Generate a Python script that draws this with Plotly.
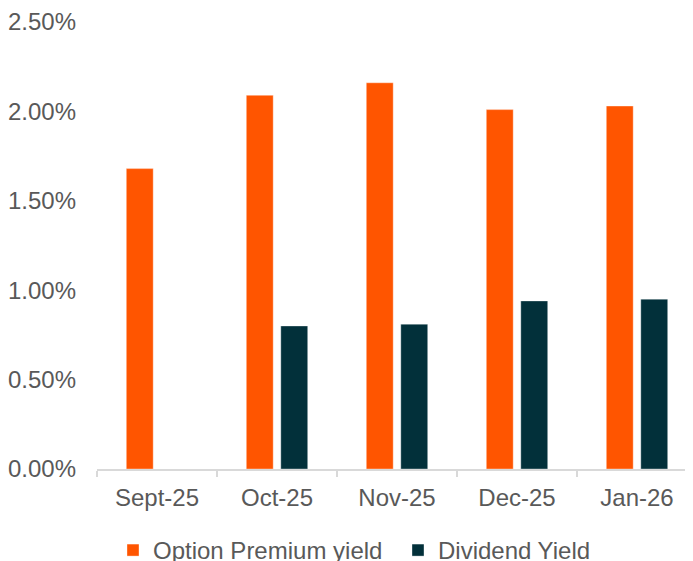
import plotly.graph_objects as go

# monthly yields, in percent
months = ["Sept-25", "Oct-25", "Nov-25", "Dec-25", "Jan-26"]
option_premium_yield = [1.68, 2.09, 2.16, 2.01, 2.03]
dividend_yield = [None, 0.80, 0.81, 0.94, 0.95]
y_ticks = [0, 0.5, 1.0, 1.5, 2.0, 2.5]
y_tick_labels = [f"{v:.2f}%" for v in y_ticks]

ORANGE = "#FF5500"
DARK = "#02303A"
GREY_TEXT = "#595959"
AXIS_GREY = "#D9D9D9"
FONT = "Liberation Sans, Arial, sans-serif"

fig = go.Figure()

fig.add_trace(go.Bar(
    x=months,
    y=option_premium_yield,
    name="Option Premium yield",
    marker=dict(color=ORANGE, line=dict(color="rgba(255,255,255,0.45)", width=0.8)),
))

fig.add_trace(go.Bar(
    x=months,
    y=dividend_yield,
    name="Dividend Yield",
    marker=dict(color=DARK, line=dict(color="rgba(255,255,255,0.45)", width=0.8)),
))

# the page body adds an 8px offset, so margins are shifted to compensate
fig.update_layout(
    width=693,
    height=561,
    template="simple_white",
    paper_bgcolor="white",
    plot_bgcolor="white",
    font=dict(family=FONT, size=24, color=GREY_TEXT),
    barmode="group",
    bargap=0.425,
    bargroupgap=0.22,
    margin=dict(l=89, r=4, t=14, b=100, autoexpand=False),
    showlegend=True,
    legend=dict(
        orientation="h",
        xref="container", yref="container",
        x=0.1515, y=0.033,
        xanchor="left", yanchor="middle",
        entrywidth=240,
        font=dict(size=24, color=GREY_TEXT),
        bgcolor="rgba(0,0,0,0)",
        itemclick=False,
    ),
)

fig.update_xaxes(
    range=[-0.5, 4.5],
    automargin=False,
    showline=True,
    linecolor=AXIS_GREY,
    linewidth=1.5,
    ticks="outside",
    tickson="boundaries",
    ticklen=6,
    tickcolor=AXIS_GREY,
    tickwidth=1.5,
    showgrid=False,
    ticklabelstandoff=6,
    tickfont=dict(size=24, color=GREY_TEXT),
)

fig.update_yaxes(
    range=[0, 2.5],
    automargin=False,
    tickvals=y_ticks,
    ticktext=y_tick_labels,
    showline=False,
    ticks="",
    showgrid=False,
    zeroline=False,
    ticklabelstandoff=20,
    tickfont=dict(size=24, color=GREY_TEXT),
)

fig.write_html("out.html")
